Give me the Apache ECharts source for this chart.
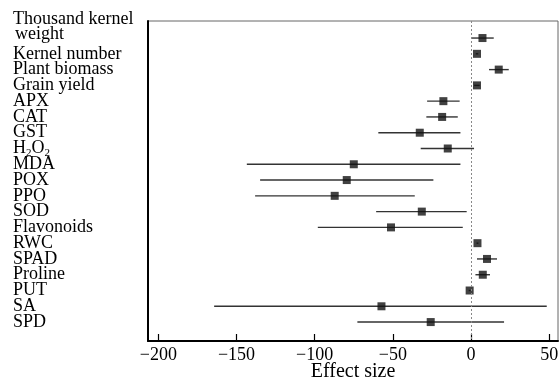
<!DOCTYPE html>
<html><head><meta charset="utf-8">
<script src="https://cdn.jsdelivr.net/npm/echarts@6/dist/echarts.min.js"></script>
<style>html,body{margin:0;padding:0;background:#fff}#c{width:559px;height:380px}</style>
</head><body><div id="c"></div>
<script>
const categories = ['Thousand kernel weight','Kernel number','Plant biomass','Grain yield','APX','CAT','GST','H₂O₂','MDA','POX','PPO','SOD','Flavonoids','RWC','SPAD','Proline','PUT','SA','SPD'];
const estimate = [7.3, 3.8, 17.7, 3.8, -17.7, -18.5, -32.8, -14.9, -75.0, -79.5, -87.2, -31.5, -51.2, 4.1, 10.2, 7.5, -0.9, -57.3, -25.8];
const lower    = [0.2, 3.0, 11.5, 2.0, -28.1, -28.6, -59.3, -32.2, -143.4, -134.9, -138.1, -60.7, -98.0, 3.5, 3.8, 2.8, -1.5, -164.3, -72.7];
const upper    = [14.5, 4.6, 24.1, 5.5, -7.3, -8.5, -6.8, 1.9, -6.8, -24.1, -36.0, -2.8, -5.3, 4.7, 16.6, 12.1, -0.3, 48.4, 21.1];
const xTicks = [-200, -150, -100, -50, 0, 50];

const FONT = 'Liberation Serif, DejaVu Serif, serif';
const chart = echarts.init(document.getElementById('c'), null, {renderer:'canvas'});
const idx = categories.map((_, i) => i);
const Y_MIN = -1.08, Y_MAX = 19.2;
const labelFormatter = v => {
  const name = categories[v];
  if (name === 'Thousand kernel weight') return '{a|Thousand kernel}\n{w|weight}\n{e|\u00a0}';
  if (name === 'H₂O₂') return '{n|H}{s|2}{n|O}{s|2}';
  return name;
};
const rich = {
  a: {fontFamily: FONT, fontSize: 18, color: '#000', lineHeight: 15},
  w: {fontFamily: FONT, fontSize: 18, color: '#000', lineHeight: 15, padding: [0, 0, 0, 2]},
  e: {fontFamily: FONT, fontSize: 10, lineHeight: 23},
  n: {fontFamily: FONT, fontSize: 18, color: '#000', lineHeight: 15},
  s: {fontFamily: FONT, fontSize: 11, color: '#000', padding: [9, 0, 0, 0]}
};
// label groups: each axis shows non-adjacent rows so no label is auto-hidden
const labelGroups = [
  idx.filter(i => i > 0 && i % 2 === 1),
  idx.filter(i => i > 0 && i % 2 === 0),
  [0]
];
const yAxes = labelGroups.map((vals, k) => ({
  type: 'value', inverse: true, min: Y_MIN, max: Y_MAX, position: 'left',
  axisLine: k === 0 ? {show: true, onZero: false, lineStyle: {color: '#000', width: 2}} : {show: false, onZero: false},
  axisTick: {show: false},
  splitLine: {show: false},
  axisLabel: {
    customValues: vals, align: 'left', margin: 135, lineHeight: 15,
    showMinLabel: true, showMaxLabel: true, hideOverlap: false,
    fontFamily: FONT, fontSize: 18, color: '#000',
    formatter: labelFormatter, rich: rich
  }
}));
chart.setOption({
  animation: false,
  grid: {left: 148, right: 1, top: 21, bottom: 39, show: true, borderColor: '#666', borderWidth: 1, outerBoundsMode: 'none'},
  xAxis: {
    type: 'value', min: -206.6, max: 55.6,
    name: 'Effect size', nameLocation: 'middle', nameGap: 21, nameMoveOverlap: false,
    nameTextStyle: {fontFamily: FONT, fontSize: 20, color: '#000'},
    axisLine: {show: true, onZero: false, lineStyle: {color: '#000', width: 2}},
    axisTick: {show: true, inside: true, length: 7, customValues: xTicks, lineStyle: {color: '#000', width: 1.2}},
    axisLabel: {customValues: xTicks, fontFamily: FONT, fontSize: 18, color: '#000', margin: 5,
      showMinLabel: true, showMaxLabel: true,
      formatter: v => String(v).replace('-', '\u2212')},
    splitLine: {show: false}
  },
  yAxis: yAxes,
  series: [
    {
      type: 'custom',
      yAxisIndex: 0,
      data: idx.map(i => [lower[i], upper[i], i]),
      encode: {x: [0, 1], y: 2},
      renderItem: (params, api) => {
        const a = api.coord([api.value(0), api.value(2)]);
        const b = api.coord([api.value(1), api.value(2)]);
        return {type: 'line', shape: {x1: a[0], y1: a[1], x2: b[0], y2: b[1]},
          style: {stroke: '#333', lineWidth: 1.4}};
      },
      z: 2
    },
    {
      type: 'scatter',
      yAxisIndex: 0,
      data: idx.map(i => [estimate[i], i]),
      symbol: 'rect', symbolSize: 8,
      itemStyle: {color: '#111'},
      z: 3,
      markLine: {
        silent: true, symbol: 'none', label: {show: false},
        lineStyle: {color: '#888', type: [2, 2], width: 1},
        data: [{xAxis: 0}]
      }
    }
  ]
});
</script></body></html>
